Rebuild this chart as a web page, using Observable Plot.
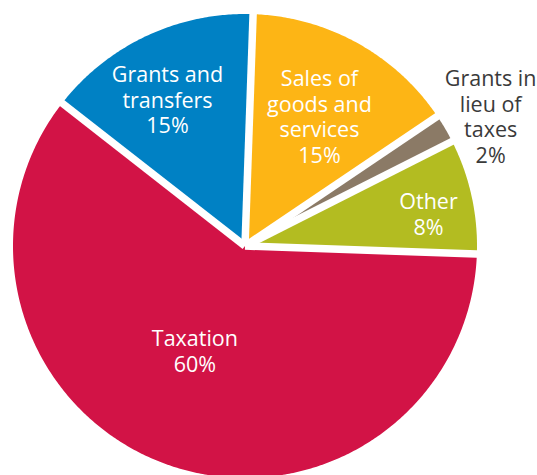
<!DOCTYPE html>
<html><head><meta charset="utf-8">
<script src="https://cdn.jsdelivr.net/npm/d3@7"></script>
<script src="https://cdn.jsdelivr.net/npm/@observablehq/plot@0.6"></script>
<style>html,body{margin:0;padding:0;background:#fff;overflow:hidden}</style>
</head><body><div id="chart"></div>
<script>
const categories = ["Sales of goods and services", "Grants in lieu of taxes", "Other", "Taxation", "Grants and transfers"];
const shares = [15, 2, 8, 60, 15];
const labelLines = ["Sales of\ngoods and\nservices", "Grants in\nlieu of\ntaxes", "Other", "Taxation", "Grants and\ntransfers"];

// styling (not data)
const sliceColors = ["#FDB515", "#8B7A66", "#B3BC21", "#D21346", "#0081C4"];
const startAngle = 2; // degrees clockwise from north
const labelPlace = {
  "Sales of goods and services": {r: 0.644, da: 0.9, outside: false},
  "Grants in lieu of taxes": {r: 1.197, da: 2.6, outside: true},
  "Other": {r: 0.803, da: 2.4, outside: false},
  "Taxation": {r: 0.5, da: 5.6, outside: false},
  "Grants and transfers": {r: 0.714, da: -2.9, outside: false}
};

const total = d3.sum(shares);
const rad = d => d * Math.PI / 180;
let acc = startAngle;
const slices = categories.map((c, i) => {
  const a0 = acc, a1 = acc + shares[i] / total * 360;
  acc = a1;
  return {name: c, a0, a1, share: shares[i], label: labelLines[i]};
});
const polyPts = [];
slices.forEach(s => {
  polyPts.push({name: s.name, x: 0, y: 0});
  const n = Math.max(2, Math.ceil((s.a1 - s.a0) / 0.5));
  for (let k = 0; k <= n; k++) {
    const a = rad(s.a0 + (s.a1 - s.a0) * k / n);
    polyPts.push({name: s.name, x: Math.sin(a), y: Math.cos(a)});
  }
});
const edges = slices.map(s => ({x1: 0, y1: 0, x2: Math.sin(rad(s.a0)) * 1.03, y2: Math.cos(rad(s.a0)) * 1.03}));
const labels = slices.map(s => {
  const p = labelPlace[s.name];
  const a = rad((s.a0 + s.a1) / 2 + p.da);
  return {x: Math.sin(a) * p.r, y: Math.cos(a) * p.r, text: s.label + "\n" + s.share + "%", outside: p.outside};
});

const chart = Plot.plot({
  width: 537, height: 475, margin: 0,
  style: {background: "white", overflow: "hidden"},
  x: {domain: [-1, 1], range: [12.5, 476.5], axis: null},
  y: {domain: [-1, 1], range: [477.5, 13.5], axis: null},
  color: {domain: categories, range: sliceColors},
  marks: [
    Plot.line(polyPts, {x: "x", y: "y", z: "name", fill: "name", stroke: "none", curve: "linear-closed"}),
    Plot.link(edges, {x1: "x1", y1: "y1", x2: "x2", y2: "y2", stroke: "white", strokeWidth: 7.5, strokeLinecap: "butt"}),
    Plot.text(labels.filter(d => !d.outside), {x: "x", y: "y", text: "text", fill: "white", fontSize: 21.5, lineHeight: 1.19, fontFamily: "Open Sans"}),
    Plot.text(labels.filter(d => d.outside), {x: "x", y: "y", text: "text", fill: "#3a3a3a", fontSize: 21.5, lineHeight: 1.19, fontFamily: "Open Sans"})
  ]
});
document.getElementById("chart").appendChild(chart);
</script>
</body></html>
